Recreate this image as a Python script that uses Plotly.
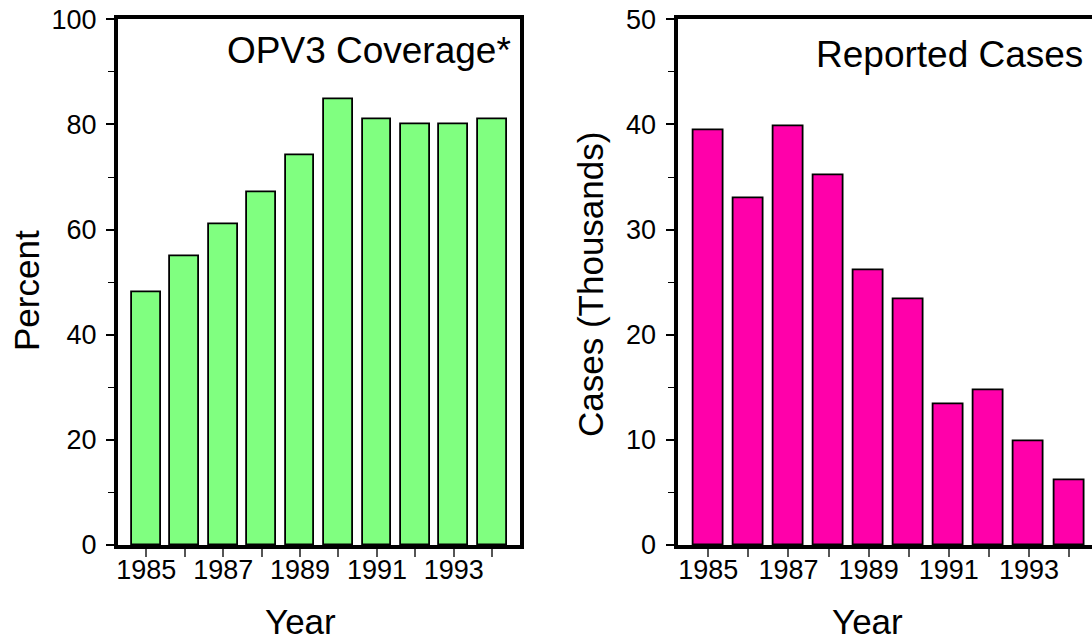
import plotly.graph_objects as go

years = [1985, 1986, 1987, 1988, 1989, 1990, 1991, 1992, 1993, 1994]
opv3_coverage = [48.0, 54.9, 61.0, 67.0, 74.1, 84.8, 81.0, 80.0, 80.0, 81.0]
reported_cases = [39.4, 33.0, 39.85, 35.2, 26.1, 23.4, 13.4, 14.7, 9.9, 6.2]
year_ticktext = ["1985", "", "1987", "", "1989", "", "1991", "", "1993", ""]

W, H = 1092, 642
FONT = "Liberation Sans, Arial, sans-serif"

fig = go.Figure()
fig.add_trace(go.Bar(x=years, y=opv3_coverage, width=0.75,
                     marker=dict(color="#80FF80", line=dict(color="black", width=1.8)),
                     xaxis="x", yaxis="y", showlegend=False, hoverinfo="skip"))
fig.add_trace(go.Bar(x=years, y=reported_cases, width=0.75,
                     marker=dict(color="#FF00AA", line=dict(color="black", width=1.8)),
                     xaxis="x2", yaxis="y2", showlegend=False, hoverinfo="skip"))

def px_x(p):
    return p / W

def px_y(p):
    return (H - p) / H

xcommon = dict(tickmode="array", tickvals=years, ticktext=year_ticktext,
               ticks="outside", ticklen=8, tickwidth=1.5, tickcolor="#555",
               tickfont=dict(family=FONT, size=27, color="black"),
               ticklabelstandoff=-10,
               showgrid=False, zeroline=False, showline=True, linecolor="black",
               linewidth=4, mirror=True, automargin=False)
ycommon = dict(ticks="outside", ticklen=8, tickwidth=1.5, tickcolor="black",
               tickfont=dict(family=FONT, size=27, color="black"),
               showgrid=False, zeroline=False, showline=True, linecolor="black",
               linewidth=4, ticklabelstandoff=4, automargin=False,
               minor=dict(ticks="outside", ticklen=6, tickwidth=1.2, tickcolor="black"))

ybot, ytop = px_y(545), px_y(19.3)

fig.update_layout(
    width=W, height=H, autosize=False,
    margin=dict(l=0, r=0, t=0, b=0, pad=0, autoexpand=False),
    paper_bgcolor="white", plot_bgcolor="white",
    bargap=0,
    xaxis=dict(domain=[px_x(118), px_x(520)], range=[1984.264, 1994.722],
               anchor="y", **xcommon),
    yaxis=dict(domain=[ybot, ytop], range=[0, 100], dtick=20, anchor="x",
               mirror=True, **{**ycommon, "minor": dict(ycommon["minor"], dtick=10)}),
    xaxis2=dict(domain=[px_x(677.5), 1.0], range=[1984.232, 1994.573],
                anchor="y2", **xcommon),
    yaxis2=dict(domain=[ybot, ytop], range=[0, 50], dtick=10, anchor="x2",
                mirror=False, **{**ycommon, "minor": dict(ycommon["minor"], dtick=5)}),
    font=dict(family=FONT, color="black"),
)

ann_font_big = dict(family=FONT, size=37, color="black")
ann_font_title = dict(family=FONT, size=35, color="black")
fig.add_annotation(text="OPV3 Coverage*", x=px_x(513), y=px_y(50.5), xref="paper", yref="paper",
                   xanchor="right", yanchor="middle", showarrow=False, font=ann_font_big)
fig.add_annotation(text="Reported Cases", x=px_x(1085), y=px_y(55), xref="paper", yref="paper",
                   xanchor="right", yanchor="middle", showarrow=False, font=ann_font_big)
fig.add_annotation(text="Year", x=px_x(300.7), y=px_y(621), xref="paper", yref="paper",
                   xanchor="center", yanchor="middle", showarrow=False, font=ann_font_title)
fig.add_annotation(text="Year", x=px_x(867.5), y=px_y(621), xref="paper", yref="paper",
                   xanchor="center", yanchor="middle", showarrow=False, font=ann_font_title)
fig.add_annotation(text="Percent", x=px_x(26), y=px_y(291), xref="paper", yref="paper",
                   xanchor="center", yanchor="middle", textangle=-90, showarrow=False,
                   font=ann_font_title)
fig.add_annotation(text="Cases (Thousands)", x=px_x(590), y=px_y(285), xref="paper", yref="paper",
                   xanchor="center", yanchor="middle", textangle=-90, showarrow=False,
                   font=ann_font_title)

fig.write_html("out.html", config={"displayModeBar": False},
               post_script="document.body.style.margin='0';")
